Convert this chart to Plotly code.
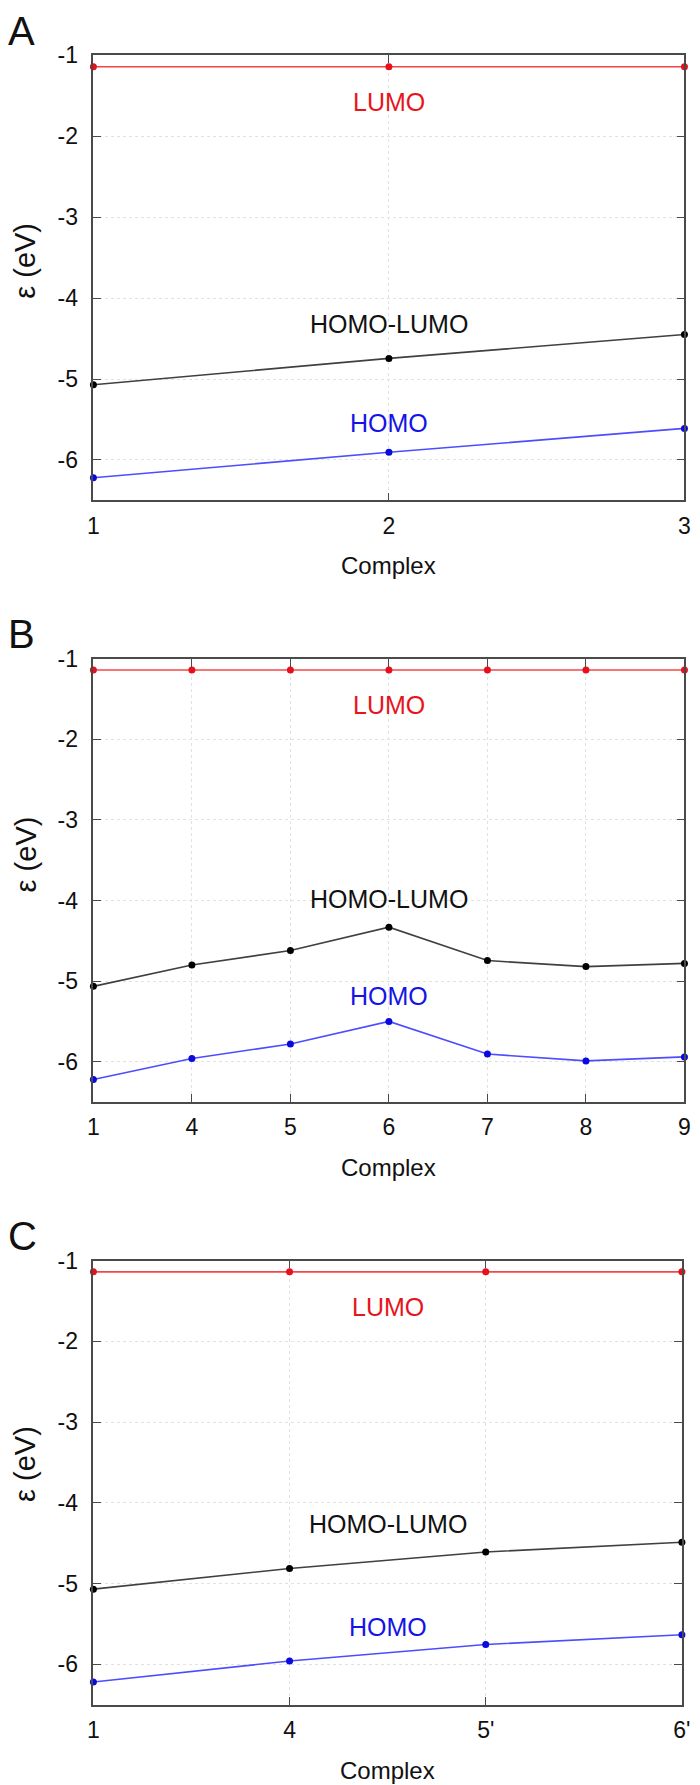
import plotly.graph_objects as go

# ---------------- data ----------------
cats_a = ["1", "2", "3"]
lumo_a = [-1.14, -1.14, -1.14]
gap_a = [-5.07, -4.745, -4.45]
homo_a = [-6.22, -5.905, -5.61]

cats_b = ["1", "4", "5", "6", "7", "8", "9"]
lumo_b = [-1.14, -1.14, -1.14, -1.14, -1.14, -1.14, -1.14]
gap_b = [-5.065, -4.80, -4.62, -4.33, -4.745, -4.82, -4.78]
homo_b = [-6.22, -5.96, -5.78, -5.50, -5.905, -5.99, -5.94]

cats_c = ["1", "4", "5'", "6'"]
lumo_c = [-1.14, -1.14, -1.14, -1.14]
gap_c = [-5.07, -4.815, -4.61, -4.49]
homo_c = [-6.22, -5.96, -5.755, -5.635]

y_ticks = [-1, -2, -3, -4, -5, -6]
y_tick_text = ["-1", "-2", "-3", "-4", "-5", "-6"]
panel_letters = ["A", "B", "C"]
series_names = ["LUMO", "HOMO-LUMO", "HOMO"]

# ---------------- style ----------------
H = 1785.0
W = 700.0
FONT = "Liberation Sans, Arial, Helvetica, sans-serif"
line_cols = ["#f04848", "#404040", "#4d4dff"]
mark_cols = ["#e8101c", "#000000", "#0a0ae0"]
text_cols = ["#e8141c", "#111111", "#1414e6"]

panels = [
    dict(cats=cats_a, vals=[lumo_a, gap_a, homo_a], top=42.7, bot=491.0, right=693.3,
         lab_x=1.0, lab_y=[-1.58, -4.325, -5.54], title_y=250),
    dict(cats=cats_b, vals=[lumo_b, gap_b, homo_b], top=650.5, bot=1097.0, right=693.3,
         lab_x=3.0, lab_y=[-1.57, -3.98, -5.18], title_y=848),
    dict(cats=cats_c, vals=[lumo_c, gap_c, homo_c], top=1256.7, bot=1704.0, right=690.7,
         lab_x=1.5, lab_y=[-1.57, -4.26, -5.54], title_y=1462),
]

fig = go.Figure()
annotations = []
layout_axes = {}

for i, p in enumerate(panels):
    k = "" if i == 0 else str(i + 1)
    xref, yref = "x" + k, "y" + k
    for s in range(3):
        fig.add_trace(go.Scatter(
            x=p["cats"], y=p["vals"][s], mode="lines+markers",
            name=series_names[s],
            line=dict(color=line_cols[s], width=1.6),
            marker=dict(color=mark_cols[s], size=7),
            cliponaxis=False, showlegend=False,
            xaxis=xref, yaxis=yref,
        ))
    n = len(p["cats"])
    layout_axes["xaxis" + k] = dict(
        domain=[89.3 / W, p["right"] / W], anchor=yref,
        type="category", range=[0, n - 1],
        showline=True, linecolor="#4a4a4a", linewidth=1.5, mirror="ticks",
        ticks="inside", ticklen=8, tickcolor="#4a4a4a", tickwidth=1.2,
        showgrid=True, gridcolor="#e2e2e2", griddash="dot", gridwidth=1,
        tickfont=dict(family=FONT, size=23, color="#111"),
        ticklabelstandoff=4, zeroline=False,
    )
    layout_axes["yaxis" + k] = dict(
        domain=[1 - p["bot"] / H, 1 - p["top"] / H], anchor=xref,
        range=[-6.5, -1],
        tickvals=y_ticks, ticktext=y_tick_text,
        showline=True, linecolor="#4a4a4a", linewidth=1.5, mirror="ticks",
        ticks="inside", ticklen=8, tickcolor="#4a4a4a", tickwidth=1.2,
        showgrid=True, gridcolor="#e2e2e2", griddash="dot", gridwidth=1,
        tickfont=dict(family=FONT, size=23, color="#111"),
        ticklabelstandoff=9, zeroline=False,
    )
    # series labels
    for s in range(3):
        annotations.append(dict(
            x=p["lab_x"], y=p["lab_y"][s], xref=xref, yref=yref,
            text=series_names[s], showarrow=False,
            font=dict(family=FONT, size=25, color=text_cols[s]),
            xanchor="center", yanchor="middle",
        ))
    # panel letter
    annotations.append(dict(
        x=0.0, y=1 - (p["top"] - 24.5) / H, xref="paper", yref="paper",
        text=panel_letters[i], showarrow=False,
        font=dict(family=FONT, size=40, color="#111"),
        xanchor="left", yanchor="middle",
    ))
    # y axis title
    annotations.append(dict(
        x=20.0 / W, y=1 - p["title_y"] / H, xref="paper", yref="paper",
        text="ε (eV)", showarrow=False, textangle=-90,
        font=dict(family=FONT, size=29, color="#111"),
        xanchor="center", yanchor="middle",
    ))
    # x axis title
    annotations.append(dict(
        x=(89.3 + p["right"]) / 2 / W, y=1 - (p["bot"] + 66) / H,
        xref="paper", yref="paper",
        text="Complex", showarrow=False,
        font=dict(family=FONT, size=24, color="#111"),
        xanchor="center", yanchor="middle",
    ))

fig.update_layout(
    width=700, height=1785,
    margin=dict(l=0, r=0, t=0, b=0),
    paper_bgcolor="white", plot_bgcolor="white",
    showlegend=False,
    annotations=annotations,
    **layout_axes,
)

fig.write_html(
    "out.html",
    config={"displayModeBar": False},
    post_script="document.body.style.margin='0';document.body.style.overflow='hidden';",
)
